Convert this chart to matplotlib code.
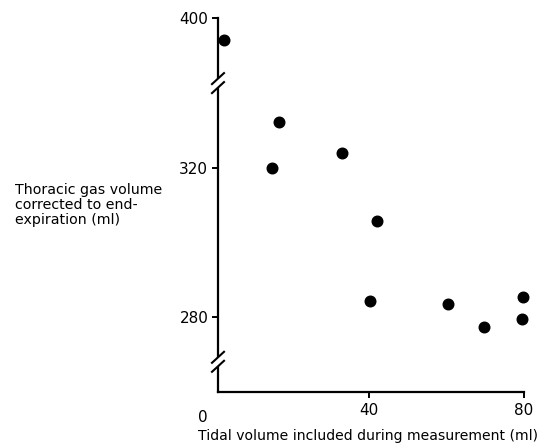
import numpy as np
import matplotlib
matplotlib.use("Agg")
import matplotlib.pyplot as plt
from matplotlib.scale import FuncScale
from matplotlib.patches import Polygon
from matplotlib.lines import Line2D

# ---- data ----
tidal_volume = [2.8, 16.9, 15.0, 33.2, 42.2, 40.3, 60.5, 69.7, 79.8, 79.6]
thoracic_gas = [394.1, 332.3, 320.0, 324.1, 305.8, 284.3, 283.5, 277.4, 285.4, 279.5]
y_ticks = [280, 320, 400]
x_ticks = [40, 80]

# ---- broken y scale (340s..380s cut out) ----
GAP_LO, GAP_HI = 343.0, 383.0
EPS = 0.001

def fwd(v):
    v = np.asarray(v, dtype=float)
    return np.where(v <= GAP_LO, v,
                    np.where(v >= GAP_HI, GAP_LO + (GAP_HI - GAP_LO) * EPS + (v - GAP_HI),
                             GAP_LO + (v - GAP_LO) * EPS))

def inv(u):
    u = np.asarray(u, dtype=float)
    mid = GAP_LO + (GAP_HI - GAP_LO) * EPS
    return np.where(u <= GAP_LO, u,
                    np.where(u >= mid, GAP_HI + (u - mid),
                             GAP_LO + (u - GAP_LO) / EPS))

plt.rcParams['font.family'] = ['DejaVu Sans']
fig = plt.figure(figsize=(5.45, 4.44), dpi=100)
ax = fig.add_axes([218 / 545, 1 - 391.7 / 444, (524 - 218) / 545, (391.7 - 18.3) / 444])
ax.set_yscale(FuncScale(ax, (fwd, inv)))
ax.set_ylim(260.1, 400)
ax.set_xlim(1.2, 80)

ax.scatter(tidal_volume, thoracic_gas, s=58, color='black', zorder=5, clip_on=False)

for s in ['top', 'right']:
    ax.spines[s].set_visible(False)
for s in ['left', 'bottom']:
    ax.spines[s].set_linewidth(1.6)

ax.set_yticks(y_ticks)
ax.set_yticklabels([str(t) for t in y_ticks])
ax.set_xticks(x_ticks)
ax.set_xticklabels([str(t) for t in x_ticks])
ax.tick_params(axis='both', direction='out', length=4.5, width=1.4, labelsize=11, pad=2.5)
ax.tick_params(axis='x', pad=3.5)
ax.minorticks_off()

# "0" label at the origin side of the x-axis
ax.text(-2.7, -0.048, "0", transform=ax.get_xaxis_transform(), ha='center', va='top', fontsize=11)

# break marks on the y-axis
def break_mark(yval):
    px, py = ax.transData.transform((1.2, yval))
    w, h, sep = 6.0, 5.5, 4.5
    a = [(px - w, py - h - sep), (px + w, py + h - sep)]
    b = [(px - w, py - h + sep), (px + w, py + h + sep)]
    poly = Polygon([a[0], a[1], b[1], b[0]], closed=True, transform=None,
                   facecolor='white', edgecolor='none', zorder=3, clip_on=False)
    fig.add_artist(poly)
    for seg in (a, b):
        fig.add_artist(Line2D([seg[0][0], seg[1][0]], [seg[0][1], seg[1][1]],
                              transform=None, color='black', lw=1.5, zorder=4))

break_mark(GAP_LO - 0.3)
break_mark(268.1)

fig.text(15 / 545, 1 - 205 / 444, "Thoracic gas volume\ncorrected to end-\nexpiration (ml)",
         ha='left', va='center', fontsize=10.2, linespacing=1.05)
fig.text(368 / 545, 1 - 436 / 444, "Tidal volume included during measurement (ml)",
         ha='center', va='center', fontsize=10.1)

fig.savefig("out.png", dpi=100, facecolor='white')
